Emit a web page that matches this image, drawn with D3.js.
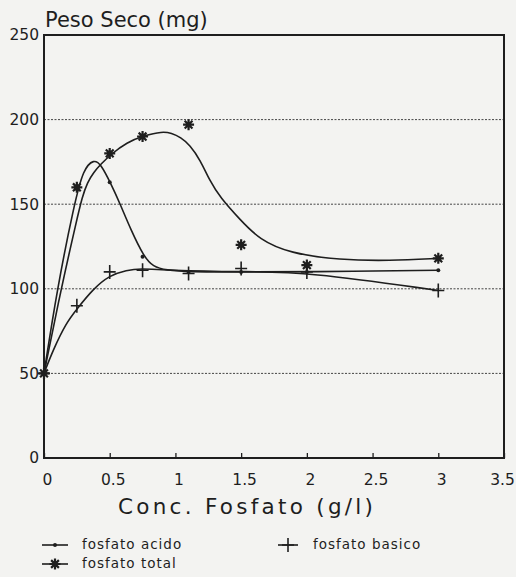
<!DOCTYPE html>
<html>
<head>
<meta charset="utf-8">
<script src="https://cdn.jsdelivr.net/npm/d3@7"></script>
<style>
  body { margin: 0; background: #f3f3f1; }
  svg { display: block; background: #f3f3f1; }
  text { font-family: "DejaVu Sans", sans-serif; fill: #1e1e1e; }
</style>
</head>
<body>
<svg id="chart" width="516" height="577"></svg>
<script>
// measured points (Conc. Fosfato g/l -> Peso Seco mg)
const conc = [0, 0.25, 0.5, 0.75, 1.1, 1.5, 2, 3];
const acido = [50, 159, 163, 119, 110, 110, 110, 111];
const total = [50, 160, 180, 190, 197, 126, 114, 118];
const basico = [50, 90, 110, 111, 109, 112, 110, 99];

// fitted curves
const acidoFitX = [0, 0.1, 0.23, 0.3, 0.38, 0.43, 0.51, 0.58, 0.66, 0.76, 0.83, 0.93, 1.1, 1.5, 2, 3];
const acidoFitY = [50, 100, 150, 171, 176.5, 174, 162, 150, 135, 119, 113, 111, 110, 110, 110, 111];
const totalFitX = [0, 0.13, 0.25, 0.29, 0.33, 0.38, 0.43, 0.51, 0.63, 0.76, 0.9, 0.97, 1.04, 1.11, 1.19, 1.26, 1.34, 1.49, 1.64, 1.87, 2.25, 2.63, 3];
const totalFitY = [50, 100, 141, 154, 163, 169, 173.5, 179.5, 186.5, 190.5, 193, 192, 189.5, 185, 176, 164, 154, 141, 129, 121, 117, 116.5, 118];
const basicoFitX = [0, 0.07, 0.17, 0.25, 0.375, 0.5, 0.63, 0.73, 0.93, 1.5, 2, 3];
const basicoFitY = [50, 64, 80, 88, 100, 108, 111, 112, 111, 110, 110, 99];

const xTicks = [0, 0.5, 1, 1.5, 2, 2.5, 3, 3.5];
const yTicks = [0, 50, 100, 150, 200, 250];
const gridTicks = [50, 100, 150, 200];

const ink = '#1e1e1e';
const svg = d3.select('#chart');

const x = d3.scaleLinear().domain([0, 3.5]).range([44, 504]);
const y = d3.scaleLinear().domain([0, 250]).range([458, 35]);

// dotted grid
svg.append('g').selectAll('line')
  .data(gridTicks)
  .enter().append('line')
  .attr('x1', x(0)).attr('x2', x(3.5))
  .attr('y1', d => y(d)).attr('y2', d => y(d))
  .attr('stroke', '#444')
  .attr('stroke-width', 1)
  .attr('stroke-dasharray', '2,1.5');

// x axis: ticks pointing inward, labels below
const gx = svg.append('g')
  .attr('transform', `translate(0,${y(0)})`)
  .call(d3.axisBottom(x).tickValues(xTicks).tickFormat(d => String(d)).tickSize(-5).tickPadding(16));
gx.select('.domain').remove();
gx.selectAll('.tick line').attr('stroke', ink).attr('stroke-width', 1.3);
gx.selectAll('.tick text')
  .attr('font-size', 15.5)
  .attr('dx', d => d === 3.5 ? -2 : 3)
  .style('font-family', '"DejaVu Sans", sans-serif')
  .attr('fill', ink);

// y axis labels only
const gy = svg.append('g')
  .attr('transform', `translate(${x(0)},0)`)
  .call(d3.axisLeft(y).tickValues(yTicks).tickSize(0).tickPadding(5));
gy.select('.domain').remove();
gy.selectAll('.tick text')
  .attr('font-size', 15.5)
  .style('font-family', '"DejaVu Sans", sans-serif')
  .attr('fill', ink);

// frame
svg.append('rect')
  .attr('x', x(0)).attr('y', y(250))
  .attr('width', x(3.5) - x(0)).attr('height', y(0) - y(250))
  .attr('fill', 'none')
  .attr('stroke', ink)
  .attr('stroke-width', 2);

// titles
svg.append('text')
  .attr('x', 45).attr('y', 27)
  .attr('font-size', 21)
  .text('Peso Seco (mg)');

svg.append('text')
  .attr('x', 118).attr('y', 514)
  .attr('font-size', 21.5)
  .attr('textLength', 255)
  .attr('lengthAdjust', 'spacing')
  .text('Conc. Fosfato (g/l)');

// curves
const line = d3.line()
  .x(d => x(d[0]))
  .y(d => y(d[1]))
  .curve(d3.curveBasis);

const fits = [
  d3.zip(acidoFitX, acidoFitY),
  d3.zip(totalFitX, totalFitY),
  d3.zip(basicoFitX, basicoFitY)
];

svg.append('g').selectAll('path')
  .data(fits)
  .enter().append('path')
  .attr('d', line)
  .attr('fill', 'none')
  .attr('stroke', ink)
  .attr('stroke-width', 1.6);

// marker drawing helpers
function drawDot(g, cx, cy) {
  g.append('circle').attr('cx', cx).attr('cy', cy).attr('r', 2).attr('fill', ink);
}
function drawPlus(g, cx, cy) {
  g.append('path')
    .attr('d', `M${cx - 6},${cy}H${cx + 6}M${cx},${cy - 7}V${cy + 7}`)
    .attr('stroke', ink).attr('stroke-width', 1.6).attr('fill', 'none');
}
function drawStar(g, cx, cy) {
  const r = 5.5, k = r * Math.SQRT1_2;
  g.append('path')
    .attr('d', `M${cx - r},${cy}H${cx + r}M${cx},${cy - r}V${cy + r}` +
      `M${cx - k},${cy - k}L${cx + k},${cy + k}M${cx - k},${cy + k}L${cx + k},${cy - k}`)
    .attr('stroke', ink).attr('stroke-width', 2.2).attr('fill', 'none');
}

const series = [
  {name: 'fosfato acido', values: acido, marker: drawDot},
  {name: 'fosfato total', values: total, marker: drawStar},
  {name: 'fosfato basico', values: basico, marker: drawPlus}
];

const gm = svg.append('g');
series.forEach(s => {
  s.values.forEach((v, i) => s.marker(gm, x(conc[i]), y(v)));
});

// legend
const legendPos = [[42, 545], [42, 564], [278, 545]];
const gl = svg.append('g');
series.forEach((s, i) => {
  const [lx, ly] = legendPos[i];
  const w = i === 2 ? 20 : 26;
  gl.append('line')
    .attr('x1', lx).attr('x2', lx + w)
    .attr('y1', ly).attr('y2', ly)
    .attr('stroke', ink).attr('stroke-width', 1.6);
  s.marker(gl, lx + w / 2, ly);
  gl.append('text')
    .attr('x', i === 2 ? 313 : 82)
    .attr('y', ly + 4)
    .attr('font-size', 13.5)
    .attr('letter-spacing', 1)
    .text(s.name);
});
</script>
</body>
</html>
